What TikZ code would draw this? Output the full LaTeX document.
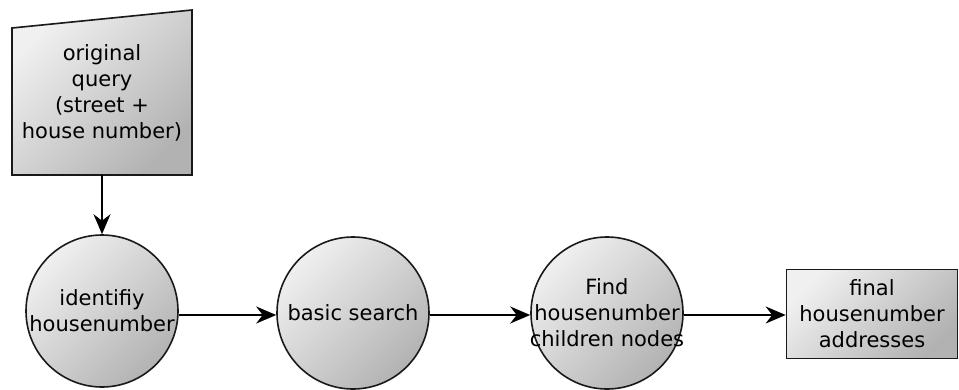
\documentclass[tikz,border=0pt]{standalone}
\usepackage{fontspec}
\setmainfont{DejaVu Sans}
\usetikzlibrary{arrows.meta}
\begin{document}
\begin{tikzpicture}[x=1pt,y=-1pt,
  graded/.style={top color=black!6, bottom color=black!30, shading angle=45},
  outline/.style={draw=black!90, line width=1.6pt},
  stepcircle/.style={circle, outline, graded, minimum size=152pt, inner sep=0pt},
  steptext/.style={align=center, font=\fontsize{21}{26}\selectfont, inner sep=0pt},
  flow/.style={line width=1.6pt, -{Stealth[length=20pt, width=17pt]}}
]
\useasboundingbox (0,0) rectangle (959,389);

% manual input: the original query
\path[outline, graded] (12,28) -- (192,10) -- (192,175) -- (12,175) -- cycle;
\node[steptext] (query) at (102,93) {original\\query\\(street +\\house number)};
\coordinate (qbottom) at (102,175);

% processing steps
\node[stepcircle] (ident) at (102,311) {};
\node[steptext] at (ident.center) {identifiy\\housenumber};

\node[stepcircle] (basic) at (353,313) {};
\node[steptext] at (basic.center) {basic search};

\node[stepcircle] (find) at (607,313) {};
\node[steptext] at (find.center) {Find\\housenumber\\children nodes};

% result
\node[rectangle, outline, graded, minimum width=171pt, minimum height=89pt,
      inner sep=0pt] (final) at (872,314) {};
\node[steptext] at (final.center) {final\\housenumber\\addresses};

% connectors
\draw[flow] (qbottom) -- (ident.north);
\draw[flow] (ident.east |- 0,315) -- (basic.west |- 0,315);
\draw[flow] (basic.east |- 0,315) -- (find.west |- 0,315);
\draw[flow] (find.east |- 0,315) -- (final.west |- 0,315);
\end{tikzpicture}
\end{document}
